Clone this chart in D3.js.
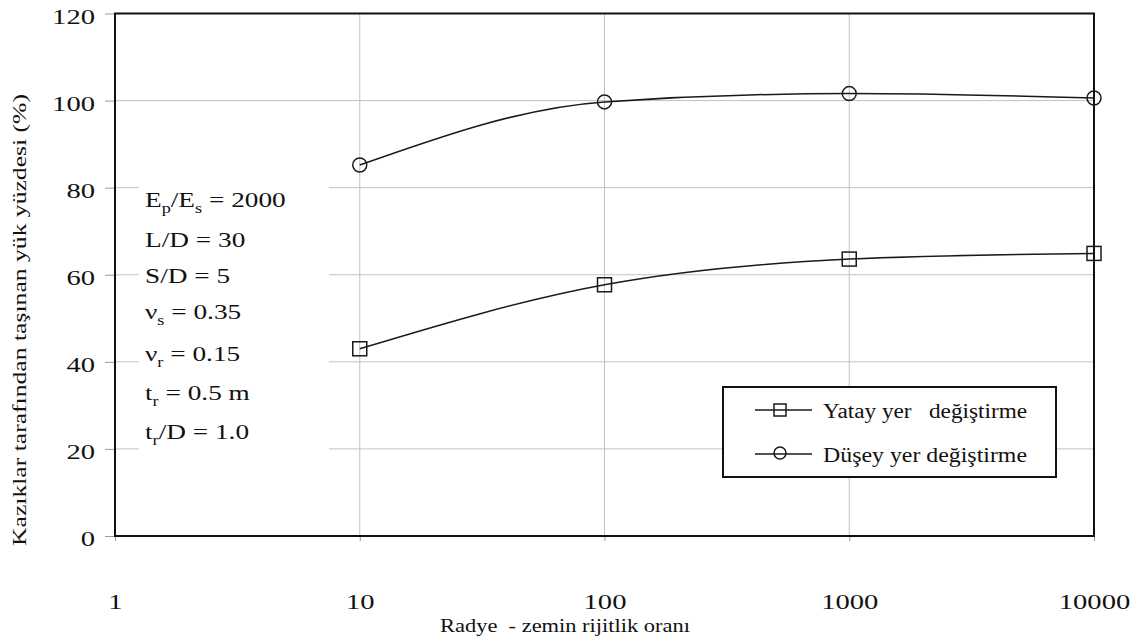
<!DOCTYPE html>
<html>
<head>
<meta charset="utf-8">
<script src="https://cdn.jsdelivr.net/npm/d3@7"></script>
<style>
  html, body { margin: 0; padding: 0; background: #fff; }
  svg { display: block; }
  text { white-space: pre; }
</style>
</head>
<body>
<svg id="chart" width="1146" height="641"></svg>
<script>
// Radye - zemin rijitlik oranı (x) vs. share of load carried by piles (y, %)
const stiffnessRatios = [10, 100, 1000, 10000];
const yatayValues = [43.0, 57.7, 63.6, 64.9];    // Yatay yer değiştirme (squares)
const duseyValues = [85.2, 99.7, 101.6, 100.6];  // Düşey yer değiştirme (circles)
const xTickValues = [1, 10, 100, 1000, 10000];
const yTickValues = [0, 20, 40, 60, 80, 100, 120];
const seriesNames = ["Yatay yer   değiştirme", "Düşey yer değiştirme"];
const xTitle = "Radye  - zemin rijitlik oranı";
const yTitle = "Kazıklar tarafından taşınan yük yüzdesi (%)";

// parameter block: each line is a list of [text, isSubscript]
const paramLines = [
  [["E", 0], ["p", 1], ["/E", 0], ["s", 1], [" = 2000", 0]],
  [["L/D = 30", 0]],
  [["S/D = 5", 0]],
  [["ν", 0], ["s", 1], [" = 0.35", 0]],
  [["ν", 0], ["r", 1], [" = 0.15", 0]],
  [["t", 0], ["r", 1], [" = 0.5 m", 0]],
  [["t", 0], ["r", 1], ["/D = 1.0", 0]]
];

const svg = d3.select("#chart");
const margin = { left: 115, top: 13.5, right: 1094, bottom: 536 };

const x = d3.scaleLog().domain([1, 10000]).range([margin.left, margin.right]);
const y = d3.scaleLinear().domain([0, 120]).range([margin.bottom, margin.top]);

const serif = "Liberation Serif, Times New Roman, serif";
const stretch = 1.3;   // the figure's lettering is set wide

// gridlines
const grid = svg.append("g").attr("stroke", "#c2c2c2").attr("stroke-width", 1);
grid.selectAll("line.h").data(yTickValues.filter(v => v > 0 && v < 120)).join("line")
  .attr("x1", margin.left).attr("x2", margin.right)
  .attr("y1", d => y(d)).attr("y2", d => y(d));
grid.selectAll("line.v").data(xTickValues.filter(v => v > 1 && v < 10000)).join("line")
  .attr("y1", margin.top).attr("y2", margin.bottom)
  .attr("x1", d => x(d)).attr("x2", d => x(d));

// axes
const yAxis = svg.append("g")
  .attr("transform", `translate(${margin.left},0)`)
  .call(d3.axisLeft(y).tickValues(yTickValues).tickSize(10).tickPadding(10).tickFormat(d3.format("d")));
yAxis.select(".domain").remove();
yAxis.attr("font-family", null).attr("font-size", null);
yAxis.selectAll(".tick line").attr("stroke", "#9a9a9a");
yAxis.selectAll(".tick text")
  .style("font-family", serif).style("font-size", "22px").attr("fill", "#111")
  .attr("x", 0).attr("dy", "0.45em")
  .attr("transform", `translate(-20,0) scale(${stretch},1)`);

const xAxis = svg.append("g")
  .attr("transform", `translate(0,${margin.bottom})`)
  .call(d3.axisBottom(x).tickValues(xTickValues).tickSize(5).tickPadding(52).tickFormat(d3.format("d")));
xAxis.select(".domain").remove();
xAxis.attr("font-family", null).attr("font-size", null);
xAxis.selectAll(".tick line").attr("stroke", "#9a9a9a");
xAxis.selectAll(".tick text")
  .style("font-family", serif).style("font-size", "22px").attr("fill", "#111")
  .attr("transform", `scale(${stretch},1)`);

// plot frame
svg.append("rect")
  .attr("x", margin.left).attr("y", margin.top)
  .attr("width", margin.right - margin.left).attr("height", margin.bottom - margin.top)
  .attr("fill", "none").attr("stroke", "#111").attr("stroke-width", 2);

// parameter text block on a white panel
svg.append("rect").attr("x", 139).attr("y", 174).attr("width", 190).attr("height", 280).attr("fill", "#fff");
const lineBaselines = [207, 247, 283, 319, 361, 400, 439];
const params = svg.append("g").style("font-family", serif).attr("fill", "#111");
paramLines.forEach((parts, i) => {
  const t = params.append("text")
    .attr("transform", `translate(145,${lineBaselines[i]}) scale(${stretch},1)`)
    .style("font-size", "21px");
  parts.forEach(([txt, sub], j) => {
    const prevSub = j > 0 && parts[j - 1][1];
    t.append("tspan")
      .style("font-size", sub ? "14px" : "21px")
      .attr("dy", sub ? 6 : (prevSub ? -6 : 0))
      .text(txt);
  });
});

// data lines and markers
const line = d3.line().x(d => x(d[0])).y(d => y(d[1])).curve(d3.curveMonotoneX);
const yatay = stiffnessRatios.map((r, i) => [r, yatayValues[i]]);
const dusey = stiffnessRatios.map((r, i) => [r, duseyValues[i]]);

[yatay, dusey].forEach(s => {
  svg.append("path").datum(s).attr("d", line)
    .attr("fill", "none").attr("stroke", "#1a1a1a").attr("stroke-width", 1.5);
});

svg.append("g").selectAll("rect").data(yatay).join("rect")
  .attr("x", d => x(d[0]) - 7).attr("y", d => y(d[1]) - 7)
  .attr("width", 14).attr("height", 14)
  .attr("fill", "none").attr("stroke", "#1a1a1a").attr("stroke-width", 1.5);
svg.append("g").selectAll("circle").data(dusey).join("circle")
  .attr("cx", d => x(d[0])).attr("cy", d => y(d[1])).attr("r", 7)
  .attr("fill", "none").attr("stroke", "#1a1a1a").attr("stroke-width", 1.5);

// legend
const legend = svg.append("g");
legend.append("rect").attr("x", 723).attr("y", 387).attr("width", 333).attr("height", 90)
  .attr("fill", "#fff").attr("stroke", "#111").attr("stroke-width", 2);
const rowY = [410, 454];
seriesNames.forEach((name, i) => {
  legend.append("line").attr("x1", 755).attr("x2", 812).attr("y1", rowY[i]).attr("y2", rowY[i])
    .attr("stroke", "#1a1a1a").attr("stroke-width", 1.5);
  if (i === 0) {
    legend.append("rect").attr("x", 774).attr("y", rowY[i] - 6).attr("width", 12).attr("height", 12)
      .attr("fill", "none").attr("stroke", "#1a1a1a").attr("stroke-width", 1.5);
  } else {
    legend.append("circle").attr("cx", 780).attr("cy", rowY[i] - 1).attr("r", 6)
      .attr("fill", "none").attr("stroke", "#1a1a1a").attr("stroke-width", 1.5);
  }
  legend.append("text").attr("x", 823).attr("y", rowY[i] + 8)
    .style("font-family", serif).style("font-size", "20px").attr("fill", "#111")
    .attr("textLength", 204).attr("lengthAdjust", "spacingAndGlyphs")
    .text(name);
});

// axis titles
svg.append("text").attr("x", 565).attr("y", 632).attr("text-anchor", "middle")
  .style("font-family", serif).style("font-size", "19px").attr("fill", "#111")
  .attr("textLength", 250).attr("lengthAdjust", "spacingAndGlyphs")
  .text(xTitle);
svg.append("text").attr("transform", "translate(26,320) rotate(-90)").attr("text-anchor", "middle")
  .style("font-family", serif).style("font-size", "18px").attr("fill", "#111")
  .attr("textLength", 452).attr("lengthAdjust", "spacingAndGlyphs")
  .text(yTitle);
</script>
</body>
</html>
